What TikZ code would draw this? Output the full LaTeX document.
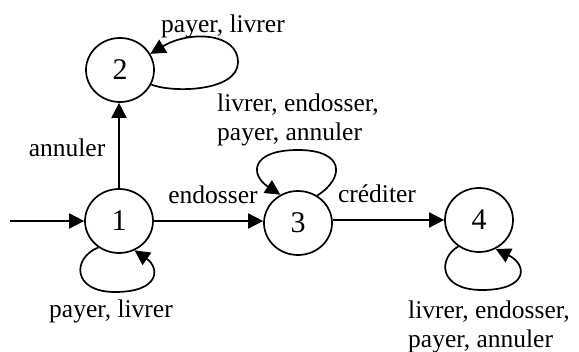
\documentclass[tikz,border=0pt]{standalone}
\usepackage{fontspec}
\setmainfont{Liberation Serif}
\usetikzlibrary{arrows.meta,shapes.geometric}
\tikzset{
  state/.style={ellipse,draw,line width=1.7pt,minimum width=68pt,minimum height=64pt,inner sep=0pt,
    font=\fontsize{30}{32}\selectfont},
  edge/.style={line width=1.7pt,-{Triangle[length=15pt,width=15pt]}},
  lbl/.style={inner sep=0pt,font=\fontsize{25.5}{28.5}\selectfont},
}
\begin{document}
\begin{tikzpicture}[x=1pt,y=-1pt]
  \useasboundingbox (0,0) rectangle (579,352);
  % states
  \node[state] (n1) at (119,221) {1};
  \node[state] (n2) at (120,70) {2};
  \node[state] (n3) at (298,223) {3};
  \node[state] (n4) at (479,220) {4};
  \coordinate (start) at (10,221);
  % transitions
  \draw[edge] (start) -- (n1);
  \draw[edge] (n1) -- (n1 |- n2.south);
  \draw[edge] (n1.east) -- (n3.west |- n1.east);
  \draw[edge] (n3.east |- n4.west) -- (n4.west);
  % self loops
  \draw[edge] (n2.-25) .. controls (172,93) and (238,92) .. (238,62)
    .. controls (238,33) and (190,30) .. (n2.28);
  \draw[edge] (n3.55) .. controls (345,178) and (345,150) .. (298,150)
    .. controls (250,150) and (250,175) .. (n3.122);
  \draw[edge] (n1.-128) .. controls (72,258) and (72,292) .. (115,292)
    .. controls (160,292) and (160,268) .. (n1.-62);
  \draw[edge] (n4.-128) .. controls (438,258) and (438,290) .. (482,290)
    .. controls (528,290) and (528,265) .. (n4.-60);
  % labels
  \node[lbl,anchor=base] (la) at (67,157) {annuler};
  \node[lbl,anchor=base] (lb) at (223,33) {payer, livrer};
  \node[lbl,anchor=base] (lc) at (213,204) {endosser};
  \node[lbl,anchor=base] (ld) at (377,203) {créditer};
  \node[lbl,anchor=base] (le) at (111,318) {payer, livrer};
  \node[lbl,anchor=north west,align=left] (lf) at (217,94) {livrer, endosser,\\payer, annuler};
  \node[lbl,anchor=north west,align=left] (lg) at (408,301) {livrer, endosser,\\payer, annuler};
\end{tikzpicture}
\end{document}
